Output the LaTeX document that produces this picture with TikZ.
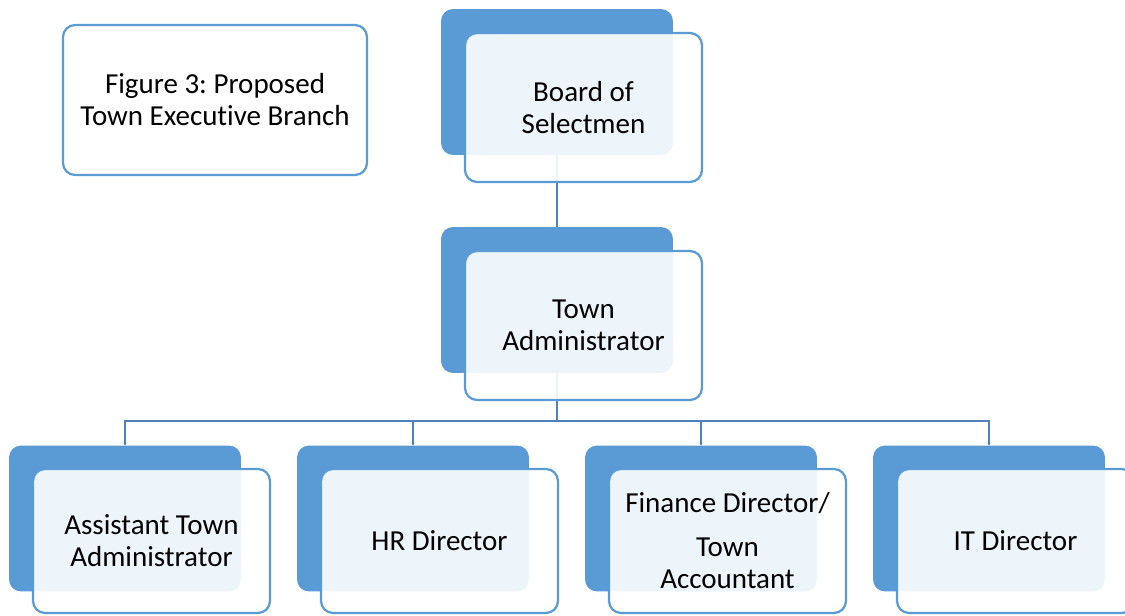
\documentclass[tikz,border=0pt]{standalone}
\usepackage{fontspec}
\setmainfont{Carlito}[Ligatures=NoCommon]
\usetikzlibrary{positioning}
\definecolor{boxblue}{HTML}{5B9BD5}
\definecolor{lineblue}{HTML}{4F81BD}
\frenchspacing

\begin{document}
\begin{tikzpicture}[x=0.02cm, y=-0.02cm,
    back/.style={fill=boxblue, rounded corners=0.24cm, inner sep=0pt,
        minimum width=4.64cm, minimum height=2.92cm},
    textbox/.style={draw=boxblue, line width=0.045cm, fill=white, rounded corners=0.24cm,
        inner sep=0pt, align=center, font=\fontsize{16.5}{18.2}\selectfont},
    front/.style={textbox, fill opacity=0.9, text opacity=1,
        minimum width=4.74cm, minimum height=2.98cm, xshift=0.53cm, yshift=-0.51cm},
    lowfront/.style={front, minimum height=2.88cm, yshift=0.06cm},
    link/.style={draw=lineblue, line width=0.05cm}]
    \useasboundingbox (0,0) rectangle (1125,615);

    % back boxes
    \node[back] (board) at (557,82) {};
    \node[back] (admin) at (557,300) {};
    \node[back] (asst) at (125,518.5) {};
    \node[back] (hr) at (413,518.5) {};
    \node[back] (fin) at (701,518.5) {};
    \node[back] (it) at (989,518.5) {};

    % connectors
    \coordinate (split) at (557,421);
    \draw[link] (board.south) -- (admin.north);
    \draw[link] (admin.south) -- (split);
    \foreach \n in {asst,hr,fin,it}
        \draw[link] (split) -| (\n.north);

    % front boxes
    \node[front] (boardf) at (board.center) {Board of\\Selectmen};
    \node[front] (adminf) at (admin.center) {Town\\Administrator};
    \node[lowfront] (asstf) at (asst.center) {Assistant Town\\Administrator};
    \node[lowfront] (hrf) at (hr.center) {HR Director};
    \node[lowfront] (finf) at (fin.center) {Finance Director/\\[0.24cm]Town\\Accountant};
    \node[lowfront] (itf) at (it.center) {IT Director};

    \node[textbox, minimum width=6.08cm, minimum height=3cm] (title) at (215,100)
        {Figure 3: Proposed\\Town Executive Branch};
\end{tikzpicture}
\end{document}
